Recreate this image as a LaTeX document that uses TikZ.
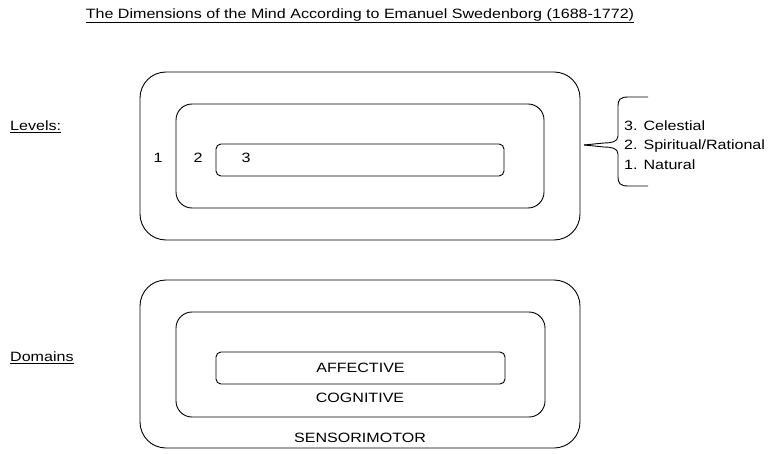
\documentclass[tikz,border=0pt]{standalone}
\usepackage{fontspec}
\setmainfont[FakeStretch=1.19]{Liberation Sans}
\begin{document}
\begin{tikzpicture}[x=1pt,y=-1pt,
  box/.style={draw,line width=0.9pt,outer sep=0pt,inner sep=0pt},
  lbl/.style={font=\fontsize{13.5}{15}\selectfont,inner sep=0pt}]
\useasboundingbox (0,0) rectangle (775,454);
% title
\node[lbl] (title) at (360,16) {\underline{The Dimensions of the Mind According to Emanuel Swedenborg (1688-1772)}};
\node[lbl,anchor=west] (levels) at (10,127) {\underline{Levels:}};
\node[lbl,anchor=west] (domains) at (10,358) {\underline{Domains}};
% levels boxes
\node[box,rounded corners=26pt,minimum width=440pt,minimum height=168pt] (l1) at (360,156) {};
\node[box,rounded corners=16pt,minimum width=368pt,minimum height=104pt] (l2) at (360,156) {};
\node[box,rounded corners=5pt,minimum width=288pt,minimum height=32pt] (l3) at (360,160) {};
\node[lbl] (n1) at (158,158) {1};
\node[lbl] (n2) at (198,158) {2};
\node[lbl] (n3) at (246,158) {3};
% brace
\coordinate (tip) at (584,145);
\draw[line width=0.9pt] (648,97) -- (628,97) .. controls (620,97) and (618,100) .. (618,106) -- (618,136) .. controls (618,142) and (611,143) .. (604,143) -- (tip);
\draw[line width=0.9pt] (648,186) -- (628,186) .. controls (620,186) and (618,183) .. (618,177) -- (618,154) .. controls (618,148) and (611,147) .. (604,147) -- (tip);
\node[lbl,anchor=west] (c3) at (624,126) {3. Celestial};
\node[lbl,anchor=west] (c2) at (624,146) {2. Spiritual/Rational};
\node[lbl,anchor=west] (c1) at (624,165) {1. Natural};
% domains boxes
\node[box,rounded corners=26pt,minimum width=440pt,minimum height=168pt] (d1) at (360,364) {};
\node[box,rounded corners=16pt,minimum width=369pt,minimum height=105pt] (d2) at (360.5,364.5) {};
\node[box,rounded corners=5pt,minimum width=289pt,minimum height=32pt] (d3) at (360.5,368) {};
\node[lbl] (aff) at (d3.center) {AFFECTIVE};
\node[lbl] (cog) at (360,398) {COGNITIVE};
\node[lbl] (sen) at (360,438) {SENSORIMOTOR};
\end{tikzpicture}
\end{document}
